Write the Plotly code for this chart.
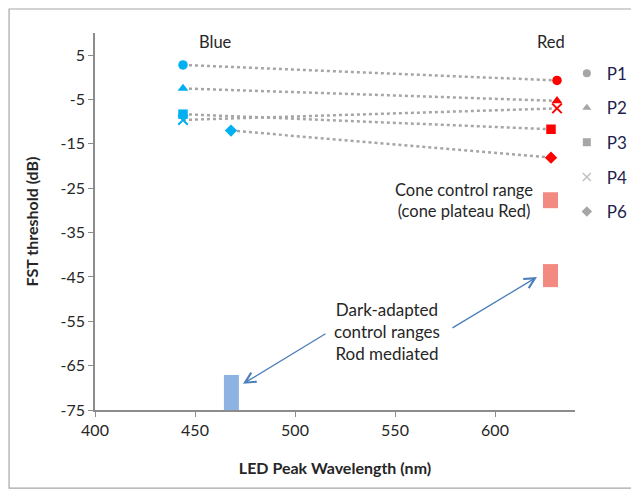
import plotly.graph_objects as go

# ---- data ----
participants = ["P1", "P2", "P3", "P4", "P6"]
symbols = ["circle", "triangle-up", "square", "x-thin", "diamond"]
blue_wl = [444, 444, 444, 444, 468]
red_wl = [631, 631, 628, 631, 628]
blue_thr = [2.8, -2.5, -8.3, -9.6, -12.0]
red_thr = [-0.7, -5.3, -11.7, -7.0, -18.1]

cone_range_wl = [627.75]
cone_range = [-25.9, -29.5]          # top, bottom
rod_red_wl = [627.75]
rod_red_range = [-42.1, -47.3]
rod_blue_wl = [468.2]
rod_blue_range = [-67.1, -75.0]

x_ticks = [400, 450, 500, 550, 600]
y_ticks = [5, -5, -15, -25, -35, -45, -55, -65, -75]
y_tick_labels = ["5", "-5", "-15", "-25", "-35", "-45", "-55", "-65", "-75"]

BLUE = "#00b0f0"
RED = "#ff0000"
GREY_LINE = "#a6a6a6"
FONT = "Lato"
TXT = "#262626"

fig = go.Figure()

# range bars
for wl, rng, col in [(cone_range_wl, cone_range, "#f28a82"),
                     (rod_red_wl, rod_red_range, "#f28a82"),
                     (rod_blue_wl, rod_blue_range, "#8db3e2")]:
    fig.add_trace(go.Bar(x=wl, y=[rng[0] - rng[1]], base=[rng[1]], width=7.5,
                         marker=dict(color=col, line=dict(width=0)),
                         showlegend=False, hoverinfo="skip"))

# participant lines with points
for i, p in enumerate(participants):
    sym = symbols[i]
    is_x = sym == "x-thin"
    fig.add_trace(go.Scatter(
        x=[blue_wl[i], red_wl[i]], y=[blue_thr[i], red_thr[i]],
        mode="lines+markers",
        line=dict(color=GREY_LINE, width=2.5, dash="dot"),
        marker=dict(symbol=sym, size=9.5,
                    color=[BLUE, RED],
                    line=dict(width=2 if is_x else 0, color=[BLUE, RED])),
        showlegend=False, cliponaxis=False))
    # legend entry (grey)
    fig.add_trace(go.Scatter(
        x=[None], y=[None], mode="markers", name=p, legendgroup=p,
        marker=dict(symbol=sym, size=8, color="#a6a6a6",
                    line=dict(width=1.5 if is_x else 0, color="#bfbfbf"))))

annotations = [
    dict(x=460, y=8.0, text="Blue", showarrow=False, font=dict(size=16.5, color=TXT, family=FONT)),
    dict(x=628, y=8.0, text="Red", showarrow=False, font=dict(size=16.5, color=TXT, family=FONT)),
    dict(x=620, y=-27.7, text="Cone control range<br>(cone plateau Red)", showarrow=False,
         xanchor="right", align="center", font=dict(size=16.5, color=TXT, family=FONT)),
    dict(x=546, y=-57.3, text="Dark-adapted<br>control ranges<br>Rod mediated", showarrow=False,
         xanchor="center", align="center", font=dict(size=17, color=TXT, family=FONT)),
    dict(x=621, y=-45.0, ax=578, ay=-56.7, axref="x", ayref="y", text="", showarrow=True,
         arrowhead=5, arrowsize=1.6, arrowwidth=1.3, arrowcolor="#4a7ebb"),
    dict(x=474, y=-69.1, ax=516, ay=-57.6, axref="x", ayref="y", text="", showarrow=True,
         arrowhead=5, arrowsize=1.6, arrowwidth=1.3, arrowcolor="#4a7ebb"),
]

fig.update_layout(
    width=631, height=483,
    margin=dict(l=87, r=64, t=25, b=81, autoexpand=False),
    paper_bgcolor="white", plot_bgcolor="white",
    font=dict(family=FONT, color=TXT, size=14),
    barmode="overlay",
    annotations=annotations,
    xaxis=dict(range=[400, 640], tickvals=x_ticks, showgrid=False, zeroline=False,
               automargin=False,
               showline=True, linecolor="#8c8c8c", linewidth=1.5, ticks="outside",
               ticklen=5, tickcolor="#8c8c8c", tickfont=dict(size=16, color=TXT),
               title=dict(text="<b>LED Peak Wavelength (nm)</b>", font=dict(size=16, color=TXT),
                          standoff=25)),
    yaxis=dict(range=[-75, 10], tickvals=y_ticks, ticktext=y_tick_labels,
               showgrid=False, zeroline=False, automargin=False,
               showline=True, linecolor="#8c8c8c", linewidth=1.5, ticks="outside",
               ticklen=5, tickcolor="#8c8c8c", tickfont=dict(size=16, color=TXT),
               title=dict(text="<b>FST threshold (dB)</b>", font=dict(size=16, color=TXT),
                          standoff=18)),
    legend=dict(x=0.983, xanchor="left", y=0.94, yanchor="top",
                font=dict(size=17, color="#1f1f4f", family=FONT),
                tracegroupgap=9.5, itemwidth=30, bgcolor="rgba(0,0,0,0)"),
    shapes=[dict(type="rect", xref="paper", yref="paper",
                 x0=-0.179, x1=1.4, y0=-0.207, y1=1.0637,
                 line=dict(color="#a6a6a6", width=1.2), layer="below")],
)

fig.write_html("out.html")
